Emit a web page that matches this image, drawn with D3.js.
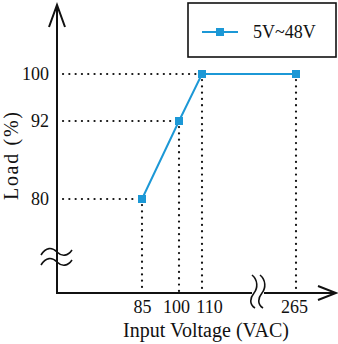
<!DOCTYPE html>
<html><head><meta charset="utf-8">
<script src="https://cdn.jsdelivr.net/npm/d3@7"></script>
<style>
html,body{margin:0;padding:0;background:#fff;}
svg{display:block;}
text{font-family:"Liberation Serif","Times New Roman",Times,serif;fill:#111;}
</style></head>
<body>
<script>
// data
const voltages = [85, 100, 110, 265];
const loads = [80, 92, 100, 100];
const yTickValues = [80, 92, 100];
const xTickValues = [85, 100, 110, 265];
const seriesName = "5V~48V";
const xTitle = "Input Voltage (VAC)";
const yTitle = "Load (%)";

const W = 338, H = 344;
const blue = "#1c98d6";
const serif = '"Liberation Serif","Times New Roman",Times,serif';
const svg = d3.select("body").append("svg").attr("width", W).attr("height", H);

const axisX0 = 57, axisY0 = 293;
// piecewise (broken-axis) scales
const x = d3.scaleLinear().domain([85, 100, 110, 265]).range([142, 179, 202, 296]);
const y = d3.scaleLinear().domain([80, 92, 100]).range([199, 121, 74]);

const pts = voltages.map((v, i) => ({v, l: loads[i]}));

// dotted guide lines
const dot = g => g.attr("stroke", "#111").attr("stroke-width", 2.2)
  .attr("stroke-linecap", "round").attr("stroke-dasharray", "0.1 6.2").attr("fill", "none");
const guides = svg.append("g");
yTickValues.forEach(t => {
  const p = pts.find(d => d.l === t);
  guides.append("line").attr("x1", axisX0 + 6).attr("x2", x(p.v) - 4)
    .attr("y1", y(t)).attr("y2", y(t)).call(dot);
});
pts.forEach(p => {
  guides.append("line").attr("x1", x(p.v)).attr("x2", x(p.v))
    .attr("y1", y(p.l) + 6).attr("y2", axisY0 - 2).call(dot);
});

// axes lines with arrows
const ax = svg.append("g").attr("stroke", "#111").attr("stroke-width", 2).attr("fill", "none");
ax.append("path").attr("d", `M${axisX0},${axisY0} V5 M${axisX0-8},27 L${axisX0},5 L${axisX0+8},27`);
ax.append("path").attr("d", `M${axisX0-1},${axisY0} H336 M318,286 L336,${axisY0} L318,300`);

// axis breaks
const brk = svg.append("g").attr("fill", "none").attr("stroke", "#111").attr("stroke-width", 1.6);
[252, 262].forEach(yy => {
  brk.append("path").attr("d", `M41,${yy+3} C46,${yy-5} 52,${yy-5} 57,${yy} S68,${yy+4} 72,${yy-2}`);
});
brk.append("rect").attr("x", 252).attr("y", axisY0 - 1).attr("width", 12).attr("height", 2).attr("fill", "#fff").attr("stroke", "none");
[254, 262].forEach(xx => {
  brk.append("path").attr("d", `M${xx-2},275 C${xx+4},280 ${xx+4},288 ${xx},${axisY0} S${xx-5},304 ${xx+1},308`);
});

// tick labels via d3 axes
const yAxis = d3.axisLeft(y).tickValues(yTickValues).tickSize(0).tickPadding(0);
const gy = svg.append("g").attr("transform", "translate(49,0)").call(yAxis);
gy.select(".domain").remove();
gy.selectAll("text").attr("font-size", 18).attr("font-family", serif).attr("fill", "#111").attr("dy", "0.33em");

const labelShift = {85: 0, 100: -3, 110: 7, 265: -2};
const xAxis = d3.axisBottom(x).tickValues(xTickValues).tickSize(0).tickPadding(0);
const gx = svg.append("g").attr("transform", `translate(0,${axisY0+8})`).call(xAxis);
gx.select(".domain").remove();
gx.selectAll("text").attr("font-size", 18).attr("font-family", serif).attr("fill", "#111")
  .attr("dy", "0.68em").attr("dx", d => labelShift[d]);

// titles
svg.append("text").attr("x", 206).attr("y", 337).attr("text-anchor", "middle")
  .attr("font-size", 20).attr("textLength", 166).attr("lengthAdjust", "spacing").text(xTitle);
svg.append("text").attr("transform", "translate(18,156) rotate(-90)").attr("text-anchor", "middle")
  .attr("font-size", 20).attr("textLength", 88).attr("lengthAdjust", "spacing").text(yTitle);

// series line
const line = d3.line().x(d => x(d.v)).y(d => y(d.l));
svg.append("path").datum(pts).attr("d", line).attr("fill", "none")
  .attr("stroke", blue).attr("stroke-width", 2);
svg.selectAll(".mk").data(pts).enter().append("rect")
  .attr("x", d => x(d.v) - 4).attr("y", d => y(d.l) - 4)
  .attr("width", 8).attr("height", 8).attr("fill", blue);

// legend
const lg = svg.append("g");
lg.append("rect").attr("x", 188).attr("y", 3).attr("width", 148).attr("height", 54)
  .attr("fill", "#fff").attr("stroke", "#111").attr("stroke-width", 1.6);
lg.append("line").attr("x1", 202).attr("x2", 238).attr("y1", 32).attr("y2", 32)
  .attr("stroke", blue).attr("stroke-width", 2);
lg.append("rect").attr("x", 216).attr("y", 28).attr("width", 8).attr("height", 8).attr("fill", blue);
lg.append("text").attr("x", 253).attr("y", 38).attr("font-size", 18).text(seriesName);
</script>
</body></html>
